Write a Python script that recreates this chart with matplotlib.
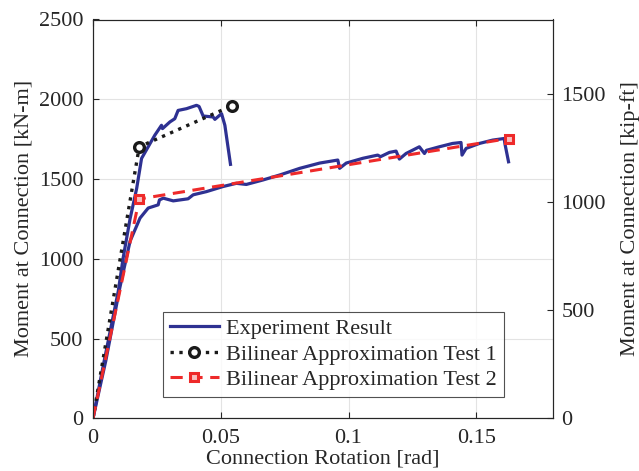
import matplotlib
matplotlib.use("Agg")
import matplotlib.pyplot as plt
import numpy as np

plt.rcParams['font.family'] = ['Liberation Serif', 'DejaVu Serif']
plt.rcParams['mathtext.fontset'] = 'stix'

# Experiment result, test 1 (rotation [rad], moment [kN-m])
exp1_rot = [0.0, 0.004, 0.0099, 0.0118, 0.0145, 0.0171, 0.019, 0.0216, 0.0242, 0.0268, 0.0272,
            0.0301, 0.032, 0.0333, 0.0366, 0.0405, 0.0415, 0.0431, 0.047, 0.0477, 0.0503,
            0.0516, 0.0538]
exp1_mom = [0, 330, 798, 1006, 1250, 1442, 1629, 1702, 1775, 1837, 1816,
            1858, 1878, 1930, 1941, 1962, 1955, 1895, 1889, 1874, 1910,
            1837, 1592]

# Experiment result, test 2
exp2_rot = [0.0, 0.005, 0.0105, 0.0145, 0.0184, 0.0216, 0.0255, 0.026, 0.0275, 0.0314,
            0.0372, 0.0392, 0.0444, 0.0509, 0.0561, 0.060, 0.0665, 0.073, 0.077, 0.0809,
            0.0887, 0.0958, 0.0965, 0.0991, 0.1056, 0.1114, 0.1125, 0.116, 0.1186, 0.1199,
            0.1225, 0.1277, 0.1297, 0.1305, 0.1355, 0.1407, 0.144, 0.1444, 0.146, 0.1512,
            0.1564, 0.1609, 0.1612, 0.1626]
exp2_mom = [0, 360, 819, 1110, 1255, 1318, 1338, 1369, 1380, 1363,
            1376, 1401, 1421, 1453, 1473, 1466, 1494, 1525, 1546, 1567,
            1600, 1619, 1567, 1600, 1630, 1650, 1640, 1667, 1675, 1625,
            1660, 1702, 1660, 1680, 1702, 1723, 1729, 1650, 1692, 1723,
            1744, 1754, 1720, 1608]

# Bilinear approximations
bil1_rot = [0.0, 0.0181, 0.0542]
bil1_mom = [0, 1702, 1958]
bil2_rot = [0.0, 0.0181, 0.1626]
bil2_mom = [0, 1375, 1754]

x_ticks = [0, 0.05, 0.1, 0.15]
x_tick_labels = ['0', '0.05', '0.1', '0.15']
y_ticks = [0, 500, 1000, 1500, 2000, 2500]
y2_ticks = [0, 500, 1000, 1500]
KNM_TO_KIPFT = 0.7376

blue = '#2E3192'
red = '#EE2A2A'
txt = '#262626'
FS = 16

fig = plt.figure(figsize=(6.39, 4.71), dpi=100)
ax = fig.add_axes([93/639, 1-418.3/471, 460/639, 398.8/471])

ax.plot(exp1_rot, exp1_mom, color=blue, lw=2.3, label='Experiment Result', zorder=3)
ax.plot(exp2_rot, exp2_mom, color=blue, lw=2.3, zorder=3)
ax.plot(bil1_rot, bil1_mom, color='#1a1a1a', ls=':', lw=2.4, marker='o', ms=7,
        mfc='white', mec='#1a1a1a', mew=2.4, markevery=[1, 2],
        label='Bilinear Approximation Test 1', zorder=4)
ax.plot(bil2_rot, bil2_mom, color=red, ls=(0, (4, 2.5)), lw=2.2, marker='s', ms=6,
        mfc='#f9c0c0', mec=red, mew=2.2, markevery=[1, 2],
        label='Bilinear Approximation Test 2', zorder=4)

ax.set_xlim(0, 0.18)
ax.set_ylim(0, 2500)
ax.set_xticks(x_ticks)
ax.set_xticklabels(x_tick_labels)
ax.set_yticks(y_ticks)
ax.grid(True, color='#e3e3e3', lw=0.8, zorder=0)
ax.set_axisbelow(True)
ax.tick_params(direction='in', top=True, labelsize=FS, colors=txt, length=4, width=0.8)
ax.tick_params(axis='y', pad=7)
ax.tick_params(axis='x', pad=8)
ax.set_xlabel('Connection Rotation [rad]', fontsize=FS, color=txt, labelpad=1)
ax.set_ylabel('Moment at Connection [kN-m]', fontsize=FS, color=txt, labelpad=4)
for s in ax.spines.values():
    s.set_color(txt)
    s.set_linewidth(0.8)

ax2 = ax.twinx()
ax2.set_ylim(0, 2500 * KNM_TO_KIPFT)
ax2.set_yticks(y2_ticks)
ax2.tick_params(direction='in', labelsize=FS, colors=txt, length=4, width=0.8, pad=6)
ax2.set_ylabel('Moment at Connection [kip-ft]', fontsize=FS, color=txt, labelpad=10)
for s in ax2.spines.values():
    s.set_color(txt)
    s.set_linewidth(0.8)

leg = ax.legend(loc='upper left', bbox_to_anchor=((163-93)/460, (418.3-312)/398.8),
                fontsize=FS, frameon=True, fancybox=False, edgecolor=txt,
                handlelength=2.2, borderpad=0.3, labelspacing=0.22, handletextpad=0.35,
                borderaxespad=0)
leg.get_frame().set_linewidth(0.8)
for t in leg.get_texts():
    t.set_color(txt)

fig.savefig('out.png', dpi=100)
